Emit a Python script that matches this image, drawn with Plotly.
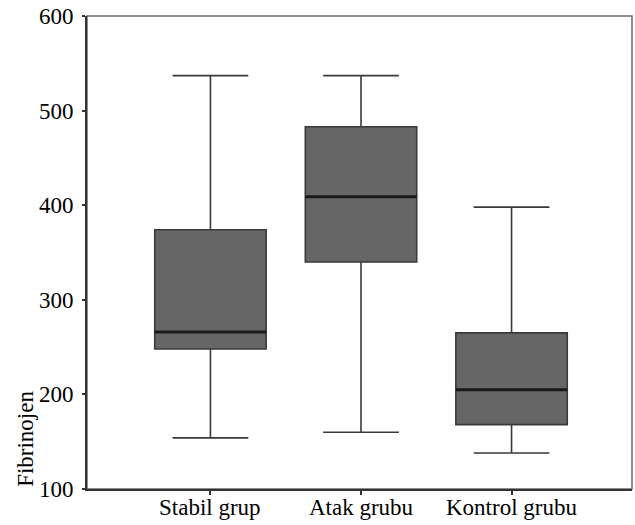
import plotly.graph_objects as go

categories = ["Stabil grup", "Atak grubu", "Kontrol grubu"]
lower_whisker = [154, 160, 138]
q1_values = [248, 340, 168]
median_values = [266, 409, 205]
q3_values = [374, 483, 265]
upper_whisker = [537, 537, 398]
y_ticks = [100, 200, 300, 400, 500, 600]

fig = go.Figure()
fig.add_trace(go.Box(
    x=categories, q1=q1_values, median=median_values, q3=q3_values,
    lowerfence=lower_whisker, upperfence=upper_whisker,
    fillcolor="#666666", line=dict(color="#3a3a3a", width=1.6),
    width=0.74, whiskerwidth=0.68, boxpoints=False, hoverinfo="skip",
    showlegend=False,
))
# thicker median lines overlaid
fig.add_trace(go.Box(
    x=categories, q1=median_values, median=median_values, q3=median_values,
    lowerfence=median_values, upperfence=median_values,
    fillcolor="rgba(0,0,0,0)", line=dict(color="#1a1a1a", width=3),
    width=0.74, whiskerwidth=0, boxpoints=False, hoverinfo="skip",
    showlegend=False,
))

label_annotations = [
    dict(text=c, x=c, xref="x", y=0, yref="paper", xanchor="center", yanchor="top",
         yshift=-4, showarrow=False,
         font=dict(family="Liberation Serif", size=23, color="black"))
    for c in categories
]

fig.update_layout(
    width=635, height=525,
    margin=dict(l=87, r=3, t=16, b=36, autoexpand=False),
    paper_bgcolor="white", plot_bgcolor="white",
    boxmode="overlay",
    font=dict(family="Liberation Serif", size=23, color="black"),
    xaxis=dict(
        type="category", range=[-0.82, 2.80], automargin=False,
        showline=True, linecolor="#333333", linewidth=2,
        ticks="outside", ticklen=4, tickwidth=2, tickcolor="#333333",
        showgrid=False, zeroline=False, showticklabels=False,
    ),
    yaxis=dict(
        range=[100, 600], tickvals=y_ticks, automargin=False,
        showline=True, linecolor="#333333", linewidth=2,
        ticks="outside", ticklen=3, tickwidth=2, tickcolor="#333333",
        showgrid=False, zeroline=False, ticklabelstandoff=4,
        tickfont=dict(family="Liberation Serif", size=23, color="black"),
    ),
    shapes=[dict(type="rect", xref="paper", yref="paper", x0=0, x1=1, y0=0, y1=1,
                 line=dict(color="#6a6a6a", width=1.5), layer="below")],
    annotations=label_annotations + [dict(text="Fibrinojen", xref="paper", yref="paper",
                      x=-0.114, y=0.0, xanchor="center", yanchor="bottom",
                      textangle=-90, showarrow=False,
                      font=dict(family="Liberation Serif", size=23, color="black"))],
)

fig.write_html("out.html", config={"displayModeBar": False},
               post_script="document.body.style.margin='0px';document.body.style.overflow='hidden';")
